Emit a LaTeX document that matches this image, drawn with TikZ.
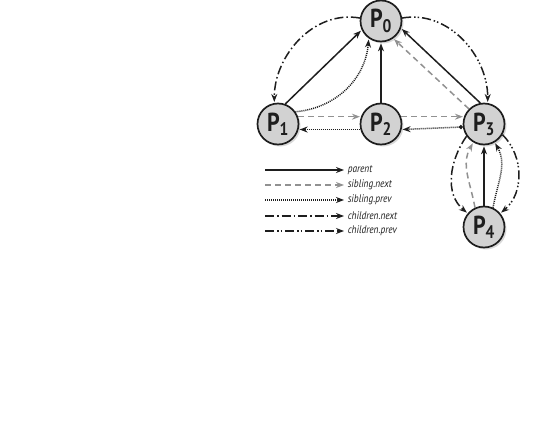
\documentclass[tikz,border=0pt]{standalone}
\usepackage{fontspec}
\setmainfont{PT Sans}
\newfontfamily\condfont[FakeStretch=0.85]{PT Sans}
\usetikzlibrary{arrows.meta,automata,positioning,shadows}
\definecolor{nodegray}{RGB}{210,210,210}
\definecolor{linegray}{RGB}{145,145,145}
\definecolor{inkblack}{RGB}{30,30,30}

\begin{document}
\begin{tikzpicture}[->,>={Stealth[length=8pt,width=6pt]},shorten >=1pt,x=1pt,y=1pt,node distance=103pt,line width=1.5pt,color=inkblack]
\tikzstyle{every state}=[fill=nodegray,draw=inkblack,line width=1.7pt,minimum size=41pt,inner sep=0pt,font=\condfont\bfseries\fontsize{26}{26}\selectfont,drop shadow={shadow xshift=2pt,shadow yshift=-2pt,opacity=0.3}]
\tikzstyle{parent}=[draw=inkblack,solid]
\tikzstyle{sibnext}=[draw=linegray,dash pattern=on 6pt off 4pt]
\tikzstyle{sibprev}=[draw=inkblack,dash pattern=on 1pt off 1pt]
\tikzstyle{childnext}=[draw=inkblack,dash pattern=on 9pt off 3pt on 1.5pt off 3pt]
\tikzstyle{childprev}=[draw=inkblack,dash pattern=on 9pt off 3pt on 1.5pt off 2pt on 1.5pt off 3pt]
\tikzstyle{legend}=[anchor=west,inner sep=0pt,text=inkblack,font=\condfont\itshape\fontsize{11}{13}\selectfont]
\useasboundingbox (0,0) rectangle (554,-444);

\node[state] (P1) at (278,-124) {P\textsubscript{1}};
\node[state] (P2) [right of=P1] {P\textsubscript{2}};
\node[state] (P3) [right of=P2] {P\textsubscript{3}};
\node[state] (P0) [above of=P2] {P\textsubscript{0}};
\node[state] (P4) [below of=P3] {P\textsubscript{4}};

\path
(P1.70) edge[parent] (P0.205)
(P2) edge[parent] (P0)
(P3.100) edge[parent] (P0.340)
(P4) edge[parent] (P3)
(P1.20) edge[sibnext] (P2.160)
(P2.20) edge[sibnext] (P3.160)
(P3.135) edge[sibnext] (P0.305)
(P4.115) edge[sibnext,out=100,in=240] (P3.240)
(P2.195) edge[sibprev] (P1.345)
(P3.188) edge[sibprev,{Circle[length=4pt]}->] (P2.345)
(P1.35) edge[sibprev,bend right=40] (P0.235)
(P4.65) edge[sibprev,out=80,in=300] (P3.300)
(P0.172) edge[childnext,out=170,in=90] (P1.100)
(P3.215) edge[childnext,out=235,in=140] (P4.140)
(P0.8) edge[childprev,out=10,in=90] (P3.80)
(P3.330) edge[childprev,out=-45,in=40] (P4.40);

% legend
\coordinate (l1) at (265,-170);
\coordinate (l2) at (265,-185);
\coordinate (l3) at (265,-200);
\coordinate (l4) at (265,-216);
\coordinate (l5) at (265,-231);
\node[legend] (t1) at (347,-170) {parent};
\node[legend] (t2) at (347,-185) {sibling.next};
\node[legend] (t3) at (347,-200) {sibling.prev};
\node[legend] (t4) at (347,-216) {children.next};
\node[legend] (t5) at (347,-231) {children.prev};
\draw[parent,shorten >=3pt] (l1) -- (t1.west);
\draw[sibnext,shorten >=3pt] (l2) -- (t2.west);
\draw[sibprev,shorten >=3pt] (l3) -- (t3.west);
\draw[childnext,shorten >=3pt] (l4) -- (t4.west);
\draw[childprev,shorten >=3pt] (l5) -- (t5.west);
\end{tikzpicture}
\end{document}
